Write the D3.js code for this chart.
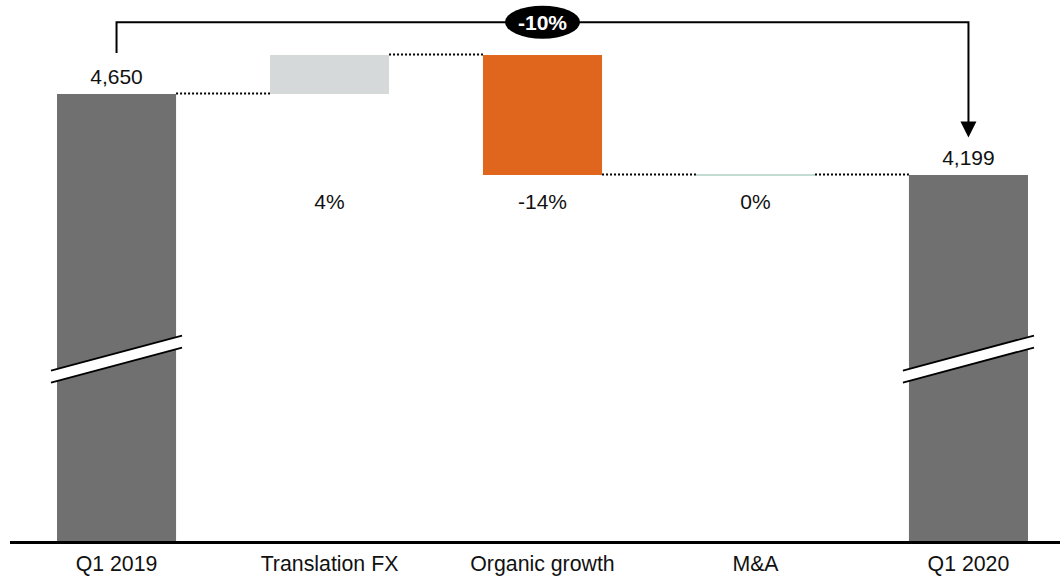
<!DOCTYPE html>
<html>
<head>
<meta charset="utf-8">
<script src="https://cdn.jsdelivr.net/npm/d3@7"></script>
<style>
  html, body { margin: 0; padding: 0; background: #fff; }
  svg { display: block; font-family: "Liberation Sans", Arial, sans-serif; }
</style>
</head>
<body>
<svg id="chart" width="1060" height="577"></svg>
<script>
// ---- data ----
const categories = ["Q1 2019", "Translation FX", "Organic growth", "M&A", "Q1 2020"];
const kinds = ["total", "delta", "delta", "delta", "total"];
const values = [4650, 217, -668, 0, 4199];
const valueLabels = ["4,650", null, null, null, "4,199"];
const pctLabels = [null, "4%", "-14%", "0%", null];
const totalChangeLabel = "-10%";
const axisDomain = [2161, 5062];   // broken value axis
const breakValue = 3177;

const colors = ["#6f706f", "#d5d9d9", "#e0661d", "#c3ddd3", "#6f706f"];

(function () {
// ---- build waterfall ----
let running = 0;
const bars = categories.map((c, i) => {
  let y0, y1;
  if (kinds[i] === "total") { y0 = axisDomain[0]; y1 = values[i]; running = values[i]; }
  else { y0 = running; y1 = running + values[i]; running = y1; }
  return { cat: c, i, y0, y1, end: running };
});

const svg = d3.select("#chart");
const W = 1060;

const x = d3.scaleBand().domain(categories).range([10, 1075])
  .paddingInner(0.441).paddingOuter(0.2207);
const y = d3.scaleLinear().domain(axisDomain).range([541, 20]);
const bw = x.bandwidth();

// bars
svg.append("g").selectAll("rect").data(bars).join("rect")
  .attr("x", d => x(d.cat))
  .attr("width", bw)
  .attr("y", d => Math.min(y(d.y0), y(d.y1)) - (d.y0 === d.y1 ? 1 : 0))
  .attr("height", d => Math.max(2, Math.abs(y(d.y0) - y(d.y1))))
  .attr("fill", (d, i) => colors[i]);

// dotted connectors
const conn = bars.slice(0, -1).map((d, i) => ({ x1: x(d.cat) + bw, x2: x(categories[i + 1]), v: d.end }));
svg.append("g").selectAll("line").data(conn).join("line")
  .attr("x1", d => d.x1).attr("x2", d => d.x2)
  .attr("y1", d => y(d.v) - 0.5).attr("y2", d => y(d.v) - 0.5)
  .attr("stroke", "#000").attr("stroke-width", 2)
  .attr("stroke-dasharray", "2,2");

// axis break marks on total bars
const yb = y(breakValue);
bars.filter((d, i) => kinds[i] === "total").forEach(d => {
  const xl = x(d.cat) - 6, xr = x(d.cat) + bw + 6;
  const g = svg.append("g");
  g.append("path")
    .attr("d", `M${xl},${yb + 12} L${xr},${yb - 23} L${xr},${yb - 11} L${xl},${yb + 24} Z`)
    .attr("fill", "#fff");
  g.append("line").attr("x1", xl).attr("y1", yb + 12).attr("x2", xr).attr("y2", yb - 23)
    .attr("stroke", "#000").attr("stroke-width", 1.8);
  g.append("line").attr("x1", xl).attr("y1", yb + 24).attr("x2", xr).attr("y2", yb - 11)
    .attr("stroke", "#000").attr("stroke-width", 1.8);
});

// baseline
svg.append("line").attr("x1", 10).attr("x2", W)
  .attr("y1", y(axisDomain[0]) + 1.5).attr("y2", y(axisDomain[0]) + 1.5)
  .attr("stroke", "#000").attr("stroke-width", 3);

// category labels
svg.append("g").selectAll("text").data(categories).join("text")
  .attr("x", d => x(d) + bw / 2).attr("y", 571)
  .attr("text-anchor", "middle").attr("font-size", 21.3).attr("fill", "#111")
  .text(d => d);

// value labels for totals
svg.append("g").selectAll("text").data(bars.filter((d, i) => valueLabels[i])).join("text")
  .attr("x", d => x(d.cat) + bw / 2).attr("y", d => y(d.y1) - 9.5)
  .attr("text-anchor", "middle").attr("font-size", 21).attr("fill", "#111")
  .text(d => valueLabels[d.i]);

// percent labels
const pctY = y(values[4]) + 34;
svg.append("g").selectAll("text").data(bars.filter((d, i) => pctLabels[i])).join("text")
  .attr("x", d => x(d.cat) + bw / 2).attr("y", pctY)
  .attr("text-anchor", "middle").attr("font-size", 21).attr("fill", "#111")
  .text(d => pctLabels[d.i]);

// bracket with arrow
const xa = x(categories[0]) + bw / 2, xb = x(categories[4]) + bw / 2;
const bracketY = y(5050);
const leftEnd = y(values[0]) - 41;
const arrowTip = y(values[4]) - 37.5;
svg.append("path")
  .attr("d", `M${xa},${leftEnd} L${xa},${bracketY} L${xb},${bracketY} L${xb},${arrowTip - 14}`)
  .attr("fill", "none").attr("stroke", "#000").attr("stroke-width", 2);
svg.append("path")
  .attr("d", `M${xb - 8},${arrowTip - 16} L${xb + 8},${arrowTip - 16} L${xb},${arrowTip} Z`)
  .attr("fill", "#000");

const cx = (xa + xb) / 2;
svg.append("ellipse").attr("cx", cx).attr("cy", bracketY).attr("rx", 37.5).attr("ry", 16.5).attr("fill", "#000");
svg.append("text").attr("x", cx).attr("y", bracketY + 7.5)
  .attr("text-anchor", "middle").attr("font-size", 21).attr("font-weight", "bold")
  .attr("fill", "#fff").text(totalChangeLabel);
})();
</script>
</body>
</html>
